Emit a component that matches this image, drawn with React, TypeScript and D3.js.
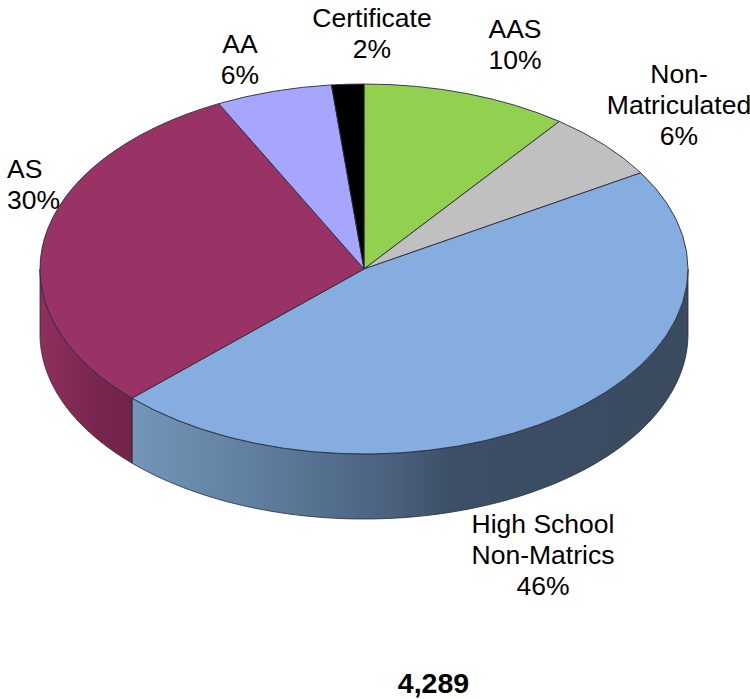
import * as d3 from "d3";

const width = 750;
const height = 699;

// clockwise from 12 o'clock; slice sizes as measured on the picture, labels as printed
const categories = ["AAS", "Non-Matriculated", "High School Non-Matrics", "AS", "AA", "Certificate"];
const sliceValues = [10.3, 6.0, 46.4, 29.9, 5.8, 1.6];
const printedPercents = ["10%", "6%", "46%", "30%", "6%", "2%"];
const colors = ["#92d050", "#c0c0c0", "#85ade0", "#993366", "#a6a6ff", "#000000"];
const labelLines = [["AAS"], ["Non-", "Matriculated"], ["High School", "Non-Matrics"], ["AS"], ["AA"], ["Certificate"]];
const labelAnchors: [number, number][] = [
  [515, 38],
  [679, 83],
  [543, 533],
  [7, 178],
  [240, 53],
  [372, 27],
];
const labelAligns = ["middle", "middle", "middle", "start", "middle", "middle"];
const total = "4,289";

const cx = 364;
const cy = 269;
const rx = 324;
const ry = 185;
const depth = 65;
const lineGap = 31;

const pie = d3.pie<number>().sort(null).value((d) => d);
const slices = pie(sliceValues);
const arc = d3.arc<d3.PieArcDatum<number>>().innerRadius(0).outerRadius(rx);

const px = (a: number) => cx + rx * Math.sin(a);
const py = (a: number) => cy - ry * Math.cos(a);

// wall below the rim for the part of a slice facing the viewer
const sidePath = (a0: number, a1: number) => {
  const start = Math.max(a0, Math.PI / 2);
  const end = Math.min(a1, (3 * Math.PI) / 2);
  if (end <= start) return null;
  const steps = d3.range(0, 81).map((i) => start + ((end - start) * i) / 80);
  const top = steps.map((a) => [px(a), py(a)] as [number, number]);
  const bottom = [...steps].reverse().map((a) => [px(a), py(a) + depth] as [number, number]);
  return d3.line()([...top, ...bottom]) + "Z";
};

const blueStops: [number, string][] = [
  [0, "#7396b8"],
  [0.22, "#5f7f9f"],
  [0.45, "#4c6380"],
  [0.58, "#3c4f66"],
  [1, "#3a4b5f"],
];
const maroonStops: [number, string][] = [
  [0, "#8f2f5e"],
  [0.6, "#7a2650"],
  [1, "#732349"],
];

export default function App() {
  return (
    <svg
      width={width}
      height={height}
      style={{ position: "absolute", left: 0, top: 0, fontFamily: "'Liberation Sans', Arial, sans-serif" }}
    >
      <defs>
        <linearGradient id="side-2" gradientUnits="userSpaceOnUse" x1={132} x2={688} y1={0} y2={0}>
          {blueStops.map(([o, c]) => (
            <stop key={o} offset={o} stopColor={c} />
          ))}
        </linearGradient>
        <linearGradient id="side-3" gradientUnits="userSpaceOnUse" x1={40} x2={132} y1={0} y2={0}>
          {maroonStops.map(([o, c]) => (
            <stop key={o} offset={o} stopColor={c} />
          ))}
        </linearGradient>
      </defs>

      {slices.map((s, i) => {
        const d = sidePath(s.startAngle, s.endAngle);
        return d ? <path key={categories[i]} d={d} fill={`url(#side-${i})`} stroke="#2b2b3a" strokeWidth={0.8} /> : null;
      })}

      <g transform={`translate(${cx},${cy}) scale(1,${ry / rx})`}>
        {slices.map((s, i) => (
          <path
            key={categories[i]}
            d={arc(s) ?? ""}
            fill={colors[i]}
            stroke="#2b2b3a"
            strokeWidth={0.9}
            vectorEffect="non-scaling-stroke"
          />
        ))}
      </g>

      <g fontSize={26.5} fill="#000">
        {categories.map((c, i) => (
          <text key={c} textAnchor={labelAligns[i]}>
            {[...labelLines[i], printedPercents[i]].map((line, j) => (
              <tspan key={j} x={labelAnchors[i][0]} y={labelAnchors[i][1] + j * lineGap}>
                {line}
              </tspan>
            ))}
          </text>
        ))}
      </g>

      <text x={433.5} y={693} fontSize={28.5} fontWeight="bold" textAnchor="middle" fill="#000">
        {total}
      </text>
    </svg>
  );
}
